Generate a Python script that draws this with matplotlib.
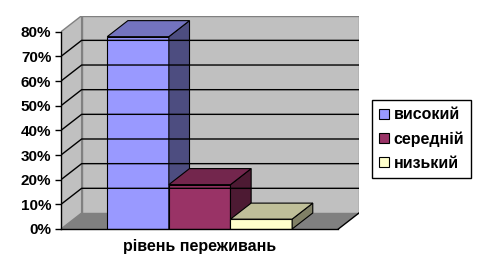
import matplotlib
matplotlib.use("Agg")
import matplotlib.pyplot as plt
from matplotlib.patches import Polygon, Patch

# data
category = "рівень переживань"
series = ["високий", "середній", "низький"]
values = [78, 18, 4]
yticks = [0, 10, 20, 30, 40, 50, 60, 70, 80]

front_colors = ["#9999FF", "#993366", "#FFFFCC"]
top_colors = ["#7373BF", "#73264D", "#BFBF99"]
side_colors = ["#4D4D80", "#4D1A33", "#808066"]

GAP = 0.75      # half of the 150% gap, in bar widths
DX = 0.335      # depth offset, x (bar widths)
DY = 6.5        # depth offset, y (percent)
YMAX = 80

plt.rcParams["font.family"] = ["Liberation Sans", "DejaVu Sans"]
plt.rcParams["font.weight"] = "bold"

fig = plt.figure(figsize=(4.79, 2.78), dpi=100)
W, H = 479, 278
ax = fig.add_axes([61 / W, 1 - 229 / H, (359 - 61) / W, (229 - 15.7) / H])

x0 = -GAP
x1 = len(values) + GAP

# walls and floor
ax.add_patch(Polygon([(x0 + DX, DY), (x1 + DX, DY), (x1 + DX, YMAX + DY),
                      (x0 + DX, YMAX + DY)], closed=True,
                     facecolor="#C0C0C0", edgecolor="#808080", lw=1))
ax.add_patch(Polygon([(x0, 0), (x0 + DX, DY), (x0 + DX, YMAX + DY), (x0, YMAX)],
                     closed=True, facecolor="#C0C0C0", edgecolor="#808080", lw=1))
ax.add_patch(Polygon([(x0, 0), (x1, 0), (x1 + DX, DY), (x0 + DX, DY)],
                     closed=True, facecolor="#808080", edgecolor="none"))
ax.plot([x1, x1 + DX], [0, DY], color="black", lw=1)

# gridlines on back and side walls
for v in yticks[1:-1]:
    ax.plot([x0, x0 + DX, x1 + DX], [v, v + DY, v + DY], color="black", lw=1)

# 3d columns
for i, v in enumerate(values):
    a, b = i, i + 1
    ax.add_patch(Polygon([(a, 0), (b, 0), (b, v), (a, v)], closed=True,
                         facecolor=front_colors[i], edgecolor="black", lw=0.8))
    ax.add_patch(Polygon([(b, 0), (b + DX, DY), (b + DX, v + DY), (b, v)],
                         closed=True, facecolor=side_colors[i],
                         edgecolor="black", lw=0.8))
    ax.add_patch(Polygon([(a, v), (b, v), (b + DX, v + DY), (a + DX, v + DY)],
                         closed=True, facecolor=top_colors[i],
                         edgecolor="black", lw=0.8))

ax.set_xlim(x0, x1 + DX)
ax.set_ylim(0, YMAX + DY)
ax.set_facecolor("none")

for s in ["top", "right"]:
    ax.spines[s].set_visible(False)
ax.spines["left"].set_bounds(0, YMAX)
ax.spines["bottom"].set_bounds(x0, x1)
for s in ["left", "bottom"]:
    ax.spines[s].set_color("black")
    ax.spines[s].set_linewidth(1)
    ax.spines[s].set_zorder(5)

ax.set_yticks(yticks)
ax.set_yticklabels([f"{t}%" for t in yticks])
ax.tick_params(axis="y", length=4, width=1, pad=3, labelsize=11)
ax.set_xticks([len(values) / 2])
ax.set_xticklabels([category])
ax.tick_params(axis="x", length=0, pad=7, labelsize=11.5)

handles = [Patch(facecolor=c, edgecolor="black", lw=0.8) for c in front_colors]
fig.legend(handles, series, loc="center", bbox_to_anchor=(0.880, 0.500),
           fancybox=False, edgecolor="black", framealpha=1, fontsize=11.5,
           handlelength=0.6, handleheight=0.6, handletextpad=0.3,
           labelspacing=0.55, borderpad=0.45, borderaxespad=0)

fig.savefig("out.png", dpi=100)
